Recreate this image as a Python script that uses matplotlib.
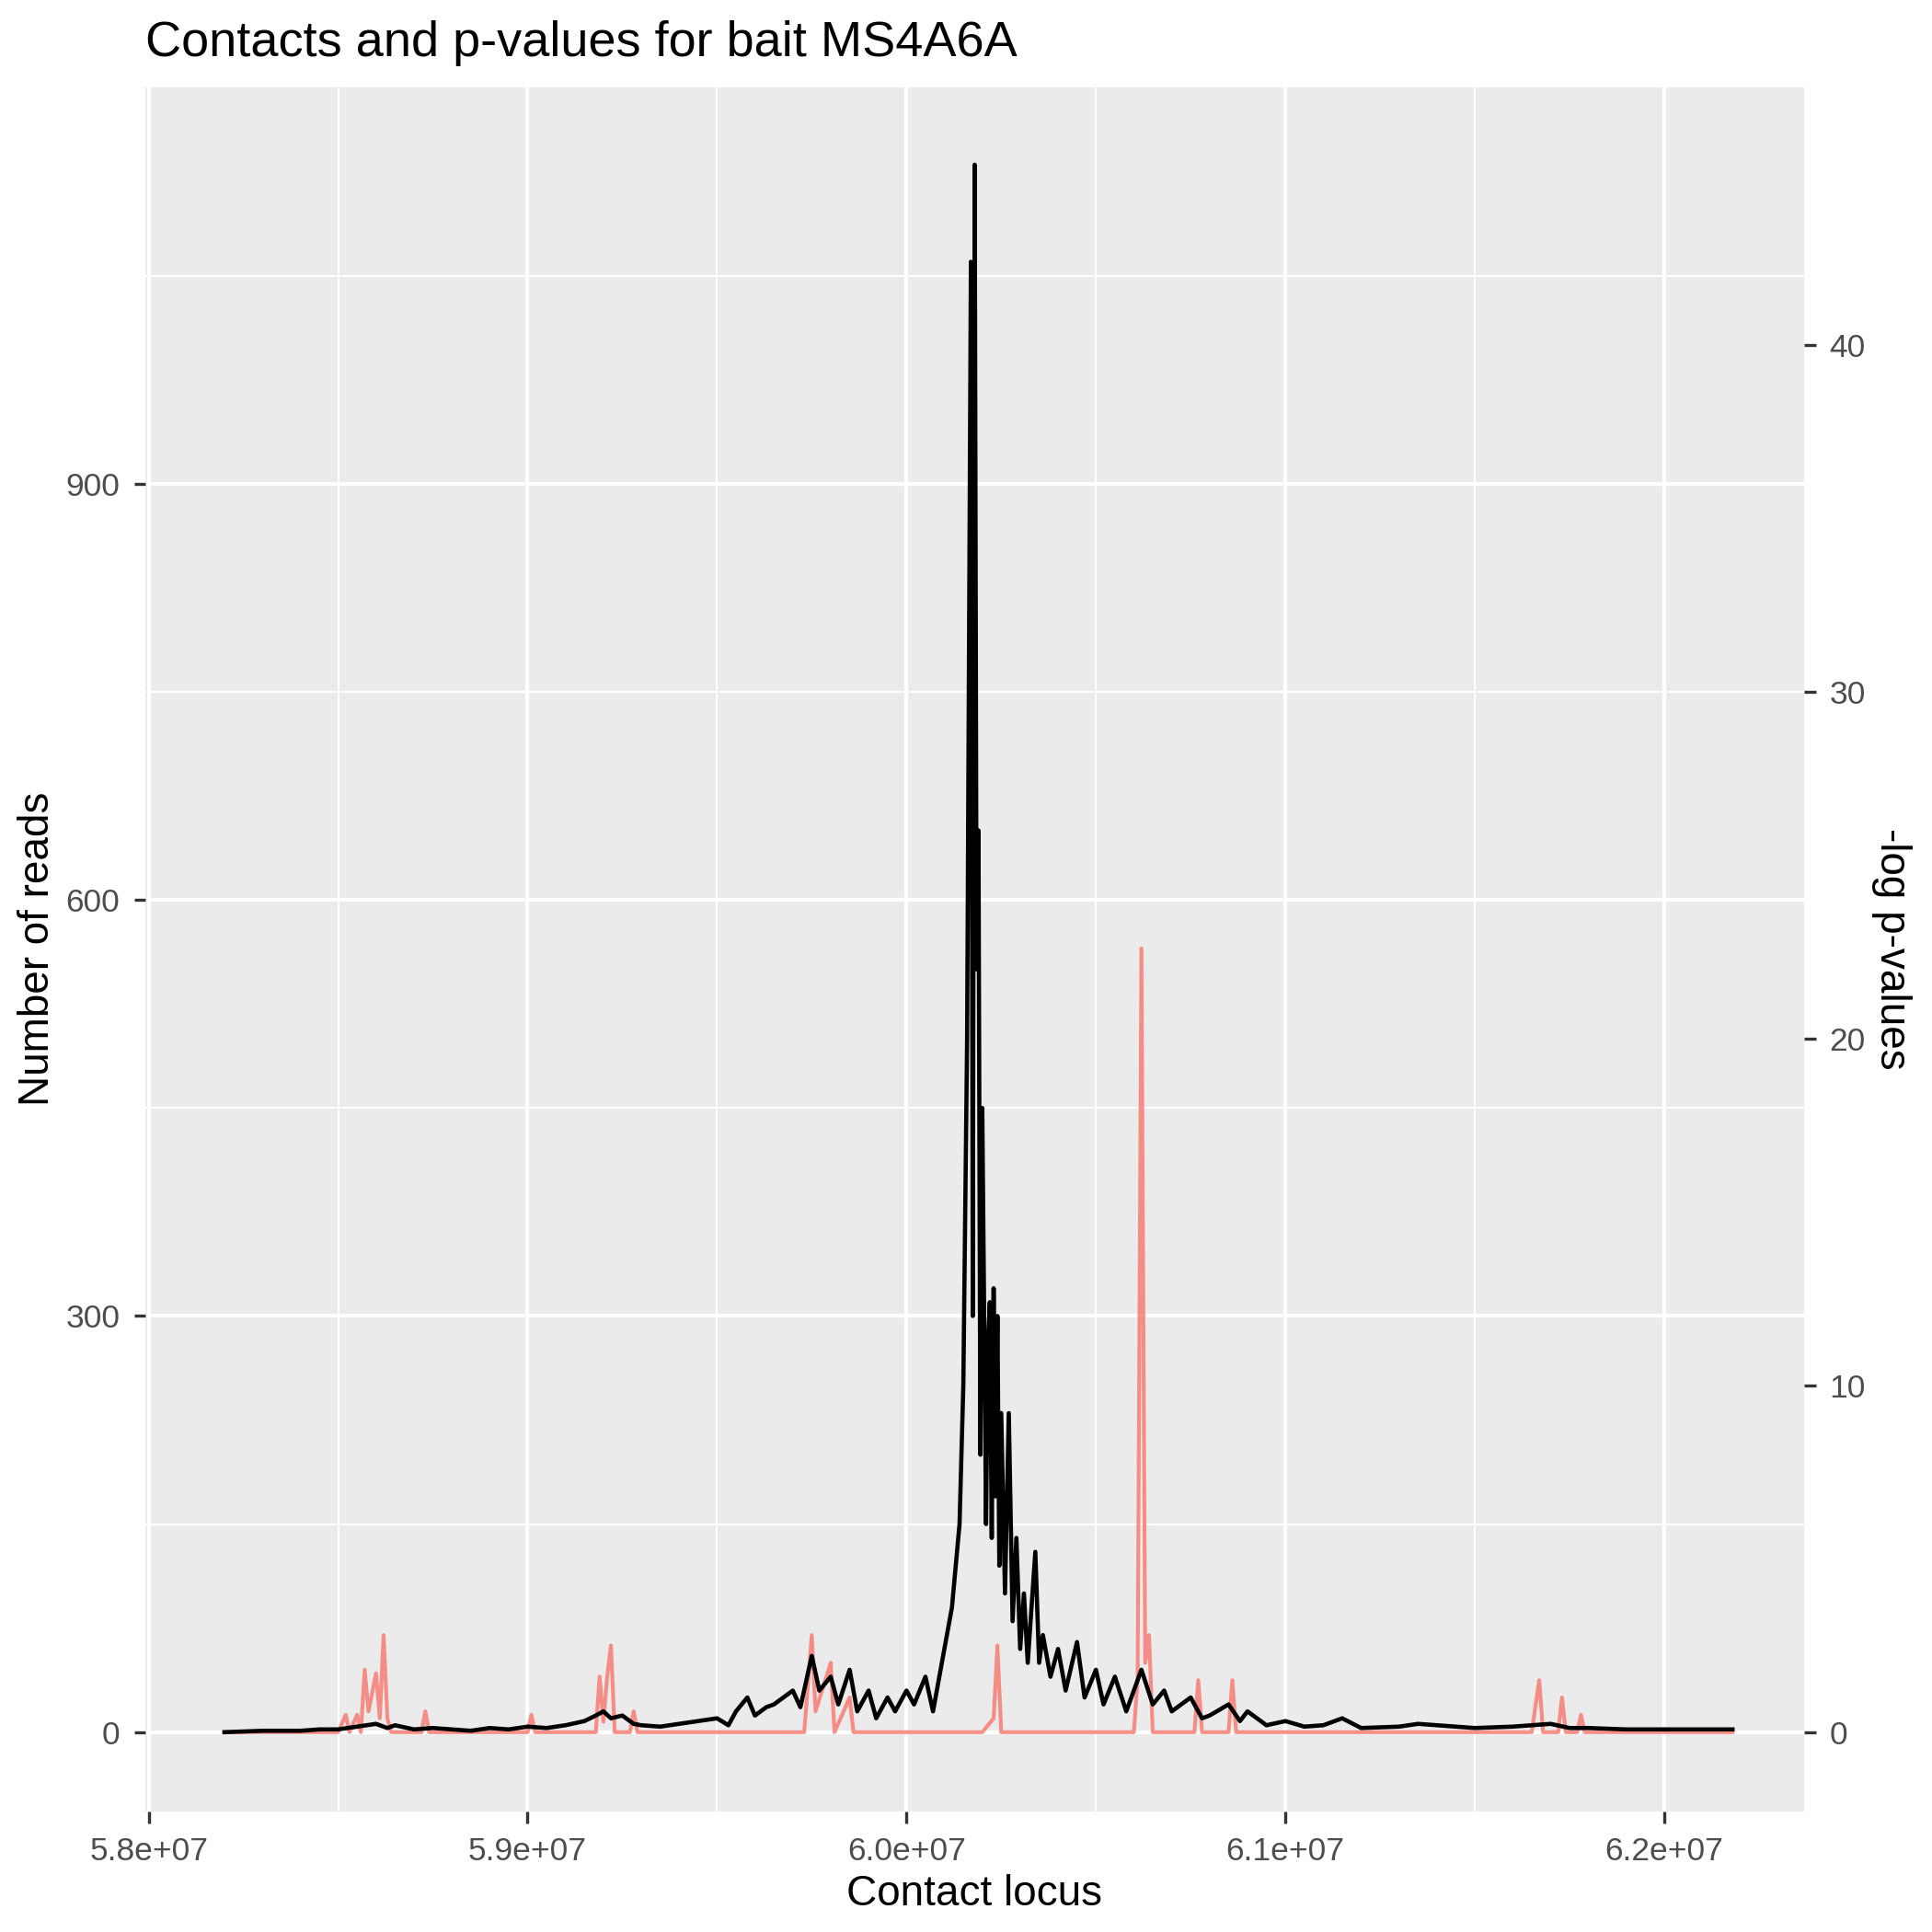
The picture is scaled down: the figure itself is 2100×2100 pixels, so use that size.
import matplotlib
matplotlib.use("Agg")
import matplotlib.pyplot as plt
import numpy as np

plt.rcParams['font.family'] = ['Liberation Sans', 'DejaVu Sans']

# black: number of reads (x in Mb)
reads_x = [58.2,58.3,58.4,58.45,58.5,58.55,58.6,58.63,58.65,58.7,58.75,58.8,58.85,58.9,58.95,59.0,59.05,59.1,59.15,59.18,59.2,59.22,59.25,59.28,59.3,59.35,59.4,59.45,59.5,59.53,59.55,59.58,59.6,59.63,59.65,59.7,59.72,59.75,59.77,59.8,59.82,59.85,59.87,59.9,59.92,59.95,59.97,60.0,60.02,60.05,60.07,60.1,60.12,60.14,60.15,60.16,60.17,60.175,60.18,60.185,60.19,60.195,60.2,60.21,60.215,60.22,60.225,60.23,60.235,60.24,60.245,60.25,60.26,60.27,60.28,60.29,60.3,60.31,60.32,60.33,60.34,60.35,60.36,60.38,60.4,60.42,60.45,60.47,60.5,60.52,60.55,60.58,60.6,60.62,60.65,60.68,60.7,60.75,60.78,60.8,60.85,60.88,60.9,60.95,61.0,61.05,61.1,61.15,61.2,61.3,61.35,61.4,61.5,61.6,61.7,61.75,61.8,61.9,62.0,62.1,62.18]
reads_y = [0,1,1,2,2,4,6,3,5,2,3,2,1,3,2,4,3,5,8,12,15,10,12,6,5,4,6,8,10,5,15,25,12,18,20,30,18,55,30,40,20,45,15,30,10,25,15,30,20,40,15,60,90,150,250,500,1060,300,1130,550,650,200,450,150,280,310,140,320,170,300,120,230,100,230,80,140,60,100,50,90,130,50,70,40,60,30,65,25,45,20,40,15,30,45,20,30,15,25,10,12,20,8,15,5,8,4,5,10,3,4,6,5,3,4,6,3,3,2,2,2,2]

# red: -log p-values (x in Mb)
pval_x = [58.2,58.5,58.52,58.53,58.55,58.56,58.57,58.58,58.6,58.61,58.62,58.63,58.64,58.72,58.73,58.74,59.0,59.01,59.02,59.18,59.19,59.2,59.21,59.22,59.23,59.27,59.28,59.29,59.73,59.75,59.76,59.8,59.81,59.85,59.86,60.2,60.23,60.24,60.25,60.6,60.61,60.62,60.63,60.64,60.65,60.76,60.77,60.78,60.85,60.86,60.87,61.65,61.67,61.68,61.72,61.73,61.74,61.77,61.78,61.79,62.18]
pval_y = [0,0,0.5,0,0.5,0,1.8,0.6,1.7,0.4,2.8,0.4,0,0,0.6,0,0,0.5,0,0,1.6,0.3,1.6,2.5,0,0,0.6,0,0,2.8,0.6,2.0,0,1.0,0,0,0.4,2.5,0,0,1.5,22.6,2.0,2.8,0,0,1.5,0,0,1.5,0,0,1.5,0,0,1.0,0,0,0.5,0,0]

fig = plt.figure(figsize=(7, 7), dpi=300)
ax = fig.add_axes([0.075, 0.0625, 0.859, 0.8925])
ax.set_facecolor('#EBEBEB')
for s in ax.spines.values():
    s.set_visible(False)

scale = 25.0
ax.plot(np.array(pval_x) * 1e6, np.array(pval_y) * scale, color='#F8766D', lw=1.0, alpha=0.8)
ax.plot(np.array(reads_x) * 1e6, reads_y, color='black', lw=1.1)

ax.set_xlim(57.99e6, 62.37e6)
ax.set_ylim(-57, 1186)
ax.set_xticks([58e6, 59e6, 60e6, 61e6, 62e6])
ax.set_xticklabels(['5.8e+07', '5.9e+07', '6.0e+07', '6.1e+07', '6.2e+07'])
ax.set_xticks([58.5e6, 59.5e6, 60.5e6, 61.5e6], minor=True)
ax.set_yticks([0, 300, 600, 900])
ax.set_yticks([150, 450, 750, 1050], minor=True)
ax.grid(which='major', color='white', lw=1.0)
ax.grid(which='minor', color='white', lw=0.5)
ax.set_axisbelow(True)
ax.tick_params(which='major', colors='#333333', labelcolor='#4D4D4D', labelsize=8.5, length=3, width=0.8)
ax.tick_params(which='minor', length=0)

ax2 = ax.twinx()
ax2.set_ylim(-57 / scale, 1186 / scale)
ax2.set_yticks([0, 10, 20, 30, 40])
for s in ax2.spines.values():
    s.set_visible(False)
ax2.tick_params(colors='#333333', labelcolor='#4D4D4D', labelsize=8.5, length=3, width=0.8)
ax2.set_ylabel('-log p-values', fontsize=11, rotation=270, labelpad=12)

ax.set_xlabel('Contact locus', fontsize=11, labelpad=2)
ax.set_ylabel('Number of reads', fontsize=11, labelpad=2)
ax.set_title('Contacts and p-values for bait MS4A6A', fontsize=13, loc='left', pad=8)

fig.savefig('out.png', dpi=300)
